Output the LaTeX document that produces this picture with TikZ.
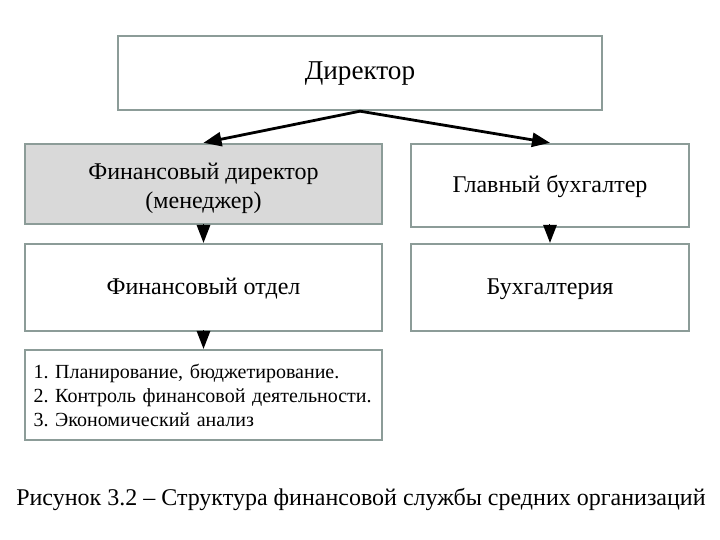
\documentclass[tikz,border=0pt]{standalone}
\usepackage{fontspec}
\setmainfont{Liberation Serif}
\usepackage{tikz}
\usetikzlibrary{arrows.meta}
\definecolor{edgegray}{HTML}{8C9C98}
\definecolor{boxgray}{HTML}{D9D9D9}

\begin{document}
\frenchspacing
\begin{tikzpicture}[x=0.5pt, y=-0.5pt,
    unit/.style={draw=edgegray, line width=1.2pt, fill=white, inner sep=0pt,
      align=center, font=\fontsize{12}{14.5}\selectfont},
    oneline/.style={text height=0.86em, text depth=0.2em},
    arr/.style={line width=1.4pt, -{Triangle[width=7pt, length=9pt]}},
    drop/.style={-{Triangle[width=7pt, length=9pt]}, line width=0pt, draw=black}]
  \useasboundingbox (0,0) rectangle (720,540);
  % top level
  \node[unit, oneline, minimum width=242pt, minimum height=37pt,
        font=\fontsize{13.6}{16}\selectfont] (dir) at (360,73) {Директор};
  \node[unit, fill=boxgray, minimum width=178.5pt, minimum height=40pt] (fin) at (203.5,184)
      {\rule{0pt}{13pt}Финансовый директор\\(менеджер)};
  \node[unit, oneline, minimum width=139pt, minimum height=41.5pt] (glav) at (550,185.5) {Главный бухгалтер};
  % second level
  \node[unit, oneline, minimum width=178.5pt, minimum height=43.5pt] (otdel) at (203.5,287.5) {Финансовый отдел};
  \node[unit, oneline, minimum width=139pt, minimum height=43.5pt] (buh) at (550,287.5) {Бухгалтерия};
  % tasks
  \node[unit, minimum width=178.5pt, minimum height=45pt, align=left, inner xsep=4pt,
        font=\fontsize{10}{12}\selectfont, text width=170pt] (tasks) at (203.5,395)
      {1. Планирование, бюджетирование.\\2. Контроль финансовой деятельности.\\3. Экономический анализ};
  % connectors
  \draw[arr] (dir.south) -- (fin.north);
  \draw[arr] (dir.south) -- (glav.north);
  \draw[drop] (fin.south) -- (otdel.north);
  \draw[drop] (glav.south) -- (buh.north);
  \draw[drop] (otdel.south) -- (tasks.north);
  \node[font=\fontsize{12}{15}\selectfont] (cap) at (361,500)
      {Рисунок 3.2 – Структура финансовой службы средних организаций};
\end{tikzpicture}
\end{document}
